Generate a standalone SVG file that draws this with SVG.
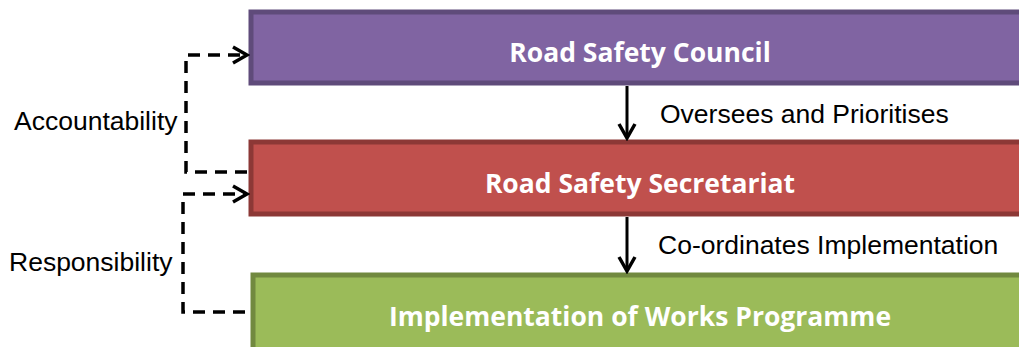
<svg xmlns="http://www.w3.org/2000/svg" width="1019" height="347" viewBox="0 0 1019 347">
<style>
.title{font-family:"Open Sans","Liberation Sans",sans-serif;font-weight:bold;font-size:26.5px;fill:#fff;text-anchor:middle}
.lbl{font-family:"Liberation Sans",Arial,sans-serif;font-size:26.5px;fill:#000}
.dash{fill:none;stroke:#000;stroke-width:3.5;stroke-dasharray:12 8}
.solid{fill:none;stroke:#000;stroke-width:3}
</style>
<defs>
<marker id="open2" viewBox="0 0 20 20" refX="17" refY="10" markerWidth="20" markerHeight="20" markerUnits="userSpaceOnUse" orient="auto">
<path d="M3,2 L17,10 L3,18" fill="none" stroke="#000" stroke-width="3.5"/>
</marker>
</defs>
<g id="council">
<rect x="251" y="12" width="790" height="71" fill="#8064A2" stroke="#5F4B7A" stroke-width="5"/>
<text class="title" x="640" y="62">Road Safety Council</text>
</g>
<g id="secretariat">
<rect x="251" y="142" width="790" height="72" fill="#C0504D" stroke="#8C3836" stroke-width="5"/>
<text class="title" x="640" y="193">Road Safety Secretariat</text>
</g>
<g id="works">
<rect x="253" y="275" width="790" height="80" fill="#9BBB59" stroke="#71893F" stroke-width="5"/>
<text class="title" x="640" y="326">Implementation of Works Programme</text>
</g>
<g id="connectors">
<path class="solid" d="M627,86 L627,138" marker-end="url(#open2)"/>
<path class="solid" d="M627,217 L627,271" marker-end="url(#open2)"/>
<path class="dash" d="M247,172 L186,172 L186,55 L247,55" marker-end="url(#open2)"/>
<path class="dash" d="M245,312 L183,312 L183,194 L247,194" marker-end="url(#open2)"/>
</g>
<g id="labels">
<text class="lbl" x="660" y="123">Oversees and Prioritises</text>
<text class="lbl" x="658" y="254">Co-ordinates Implementation</text>
<text class="lbl" x="14" y="130">Accountability</text>
<text class="lbl" x="9" y="271">Responsibility</text>
</g>
</svg>
